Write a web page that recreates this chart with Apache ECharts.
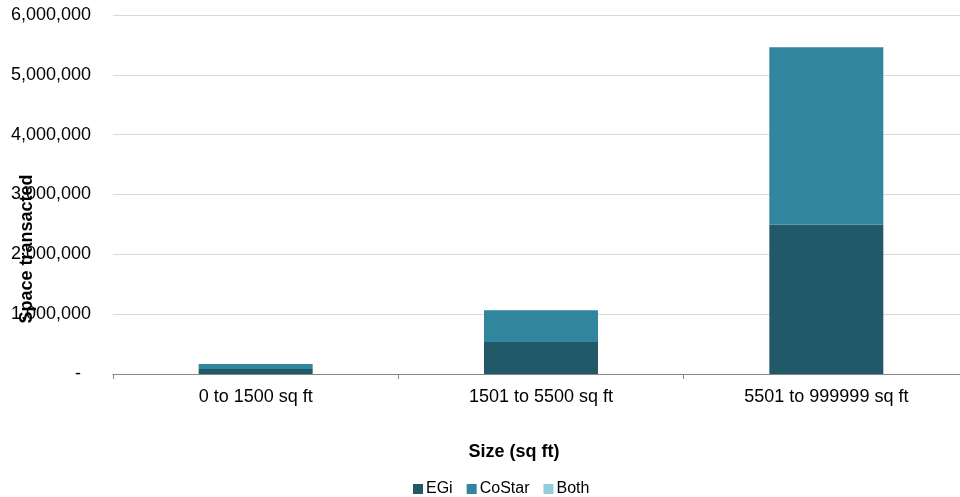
<!DOCTYPE html>
<html>
<head>
<meta charset="utf-8">
<script src="https://cdn.jsdelivr.net/npm/echarts@6/dist/echarts.min.js"></script>
<style>html,body{margin:0;padding:0;background:#fff;}#c{width:960px;height:497px;}</style>
</head>
<body>
<div id="c"></div>
<script>
var categories = ['0 to 1500 sq ft', '1501 to 5500 sq ft', '5501 to 999999 sq ft'];
var egi = [84000, 535000, 2500000];
var costar = [83000, 530000, 2963000];
var both = [0, 0, 0];
var yTicks = { min: 0, max: 6000000, interval: 1000000 };

var font = 'Liberation Sans, Arial, sans-serif';
var chart = echarts.init(document.getElementById('c'));
chart.setOption({
  animation: false,
  textStyle: { fontFamily: font },
  grid: { left: 113, width: 856, top: 15, height: 359, containLabel: false, outerBoundsMode: 'none' },
  legend: {
    data: ['EGi', 'CoStar', 'Both'],
    left: 408, top: 476,
    itemWidth: 10, itemHeight: 10, itemGap: 14,
    icon: 'rect',
    textStyle: { fontSize: 16, color: '#000', fontFamily: font, padding: [0, 0, 0, -2] }
  },
  xAxis: {
    type: 'category',
    data: categories,
    axisLine: { lineStyle: { color: '#868686', width: 1 } },
    axisTick: { show: true, length: 5, interval: 0, lineStyle: { color: '#868686' } },
    axisLabel: { fontSize: 18, color: '#000', margin: 14, interval: 0, fontFamily: font }
  },
  yAxis: {
    type: 'value',
    min: yTicks.min, max: yTicks.max, interval: yTicks.interval,
    axisLine: { show: false },
    axisTick: { show: false },
    splitLine: { lineStyle: { color: '#D9D9D9', width: 1 } },
    axisLabel: {
      fontSize: 18, color: '#000', margin: 22, fontFamily: font,
      formatter: function (v) { return v === 0 ? '-  ' : v.toLocaleString('en-US'); }
    }
  },
  graphic: [
    {
      type: 'text', x: 514, y: 452,
      style: { text: 'Size (sq ft)', font: 'bold 18px ' + font, fill: '#000', align: 'center', verticalAlign: 'middle' }
    },
    {
      type: 'text', x: 27, y: 249, rotation: Math.PI / 2,
      style: { text: 'Space transacted', font: 'bold 18px ' + font, fill: '#000', align: 'center', verticalAlign: 'middle' }
    }
  ],
  series: [
    { name: 'EGi', type: 'bar', stack: 'total', data: egi, barWidth: 114, itemStyle: { color: '#215968' } },
    { name: 'CoStar', type: 'bar', stack: 'total', data: costar, barWidth: 114, itemStyle: { color: '#31859C' } },
    { name: 'Both', type: 'bar', stack: 'total', data: both, barWidth: 114, itemStyle: { color: '#92CDDC' } }
  ]
});
</script>
</body>
</html>
